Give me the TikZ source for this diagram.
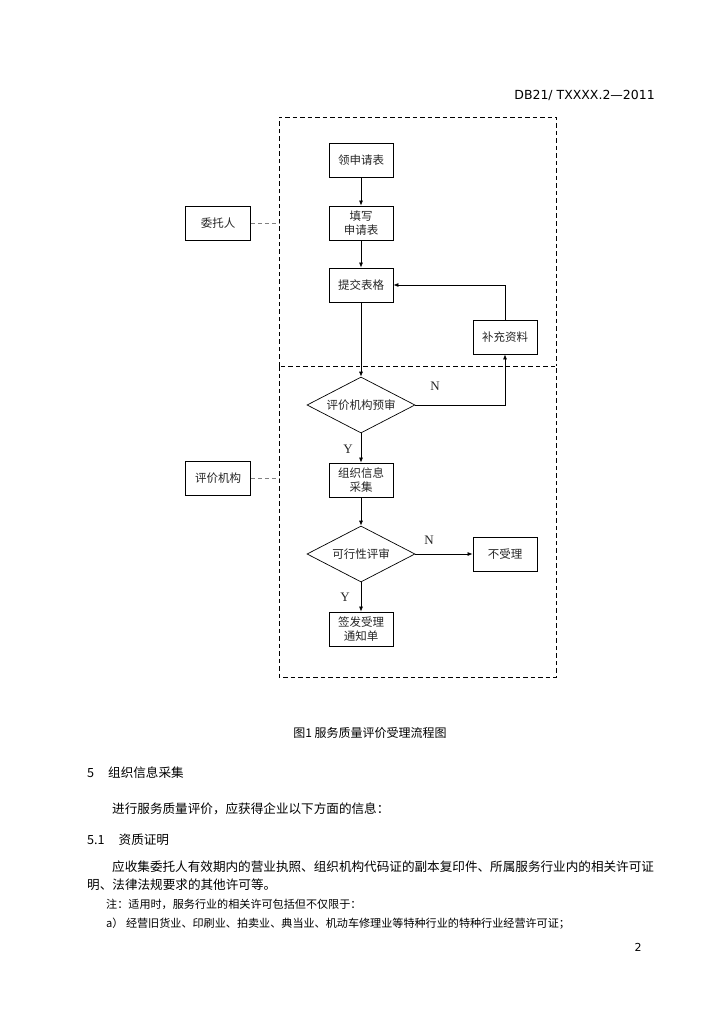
\documentclass[tikz,border=0pt]{standalone}
\usepackage{fontspec}
\setmainfont{Liberation Serif}
\newfontfamily\cjk{Noto Sans CJK SC}
\newfontfamily\hdr{DejaVu Sans}
\usetikzlibrary{shapes.geometric,arrows.meta}
\begin{document}
\begin{tikzpicture}[x=1pt,y=-1pt,
  boxnode/.style={draw, line width=0.8pt, minimum width=64pt, minimum height=34pt, inner sep=0pt,
     align=center, font=\cjk\fontsize{11.5}{14}\selectfont, text=black!85},
  decnode/.style={draw, diamond, aspect=1.93, line width=0.7pt, minimum width=108pt, minimum height=56pt,
     inner sep=0pt, font=\cjk\fontsize{11.5}{14}\selectfont, text=black!85},
  flow/.style={line width=0.7pt, -{Latex[length=5pt,width=4pt]}},
  link/.style={line width=0.9pt, gray, dash pattern=on 4pt off 3pt},
  frame/.style={line width=0.7pt, dash pattern=on 4.5pt off 3pt},
  yn/.style={font=\fontsize{13}{15}\selectfont, text=black!85},
  body/.style={anchor=west, inner sep=0pt, font=\cjk\fontsize{12.6}{15}\selectfont},
  small/.style={anchor=west, inner sep=0pt, font=\cjk\fontsize{11.1}{13}\selectfont}]
\useasboundingbox (0,0) rectangle (724,1024);
\fill[white] (0,0) rectangle (724,1024);

\node[anchor=east, inner sep=0pt, font=\hdr\fontsize{12.5}{15}\selectfont] (hdr) at (655,95) {DB21/ TXXXX.2—2011};

% dashed frames
\coordinate (ftl) at (279,117);
\coordinate (ftr) at (556,117);
\coordinate (fmr) at (556,366);
\coordinate (fml) at (279,366);
\coordinate (fbr) at (556,677);
\draw[frame] (fml) -- (ftl) -- (ftr) -- (fmr);
\draw[frame] (fml) rectangle (fbr);

% nodes
\node[boxnode] (a1) at (361,160) {领申请表};
\node[boxnode] (a2) at (361,223) {填写\\申请表};
\node[boxnode] (a3) at (361,285) {提交表格};
\node[boxnode] (bc) at (505,337) {补充资料};
\node[decnode] (d1) at (361,405) {评价机构预审};
\node[boxnode] (a4) at (361,480) {组织信息\\采集};
\node[decnode] (d2) at (361,554) {可行性评审};
\node[boxnode] (bs) at (505,554) {不受理};
\node[boxnode] (a5) at (361,629) {签发受理\\通知单};
\node[boxnode, minimum width=65pt] (wt) at (218,223) {委托人};
\node[boxnode, minimum width=65pt] (pj) at (218,478) {评价机构};

\coordinate (wte) at (279,223);
\coordinate (pje) at (279,478);
\draw[link] (wt.east) -- (wte);
\draw[link] (pj.east) -- (pje);

% flows
\draw[flow] (a1) -- (a2);
\draw[flow] (a2) -- (a3);
\draw[flow] (a3) -- (d1);
\draw[flow] (d1) -- (a4);
\draw[flow] (a4) -- (d2);
\draw[flow] (d2) -- (a5);
\draw[flow] (d2) -- (bs);
\draw[flow] (d1.east) -| (bc.south);
\draw[flow] (bc.north) |- (a3.east);

\node[yn] (n1) at (435,386) {N};
\node[yn] (y1) at (348,449) {Y};
\node[yn] (n2) at (429,540) {N};
\node[yn] (y2) at (345,597) {Y};

% text below
\node[anchor=center, inner sep=0pt, font=\cjk\fontsize{12}{14}\selectfont] (cap) at (370,733) {图1 服务质量评价受理流程图};
\node[body] (s5) at (87,773) {5\hspace{14pt}组织信息采集};
\node[body] (p1) at (112,809) {进行服务质量评价，应获得企业以下方面的信息：};
\node[body] (s51) at (87,840) {5.1\hspace{14pt}资质证明};
\node[body] (p2) at (112,867) {应收集委托人有效期内的营业执照、组织机构代码证的副本复印件、所属服务行业内的相关许可证};
\node[body] (p3) at (87,885) {明、法律法规要求的其他许可等。};
\node[small] (nt) at (106,904) {注：适用时，服务行业的相关许可包括但不仅限于：};
\node[small] (na) at (106,924) {a） 经营旧货业、印刷业、拍卖业、典当业、机动车修理业等特种行业的特种行业经营许可证；};
\node[inner sep=0pt, font=\hdr\fontsize{11}{13}\selectfont] (pg) at (638,947) {2};
\end{tikzpicture}
\end{document}
